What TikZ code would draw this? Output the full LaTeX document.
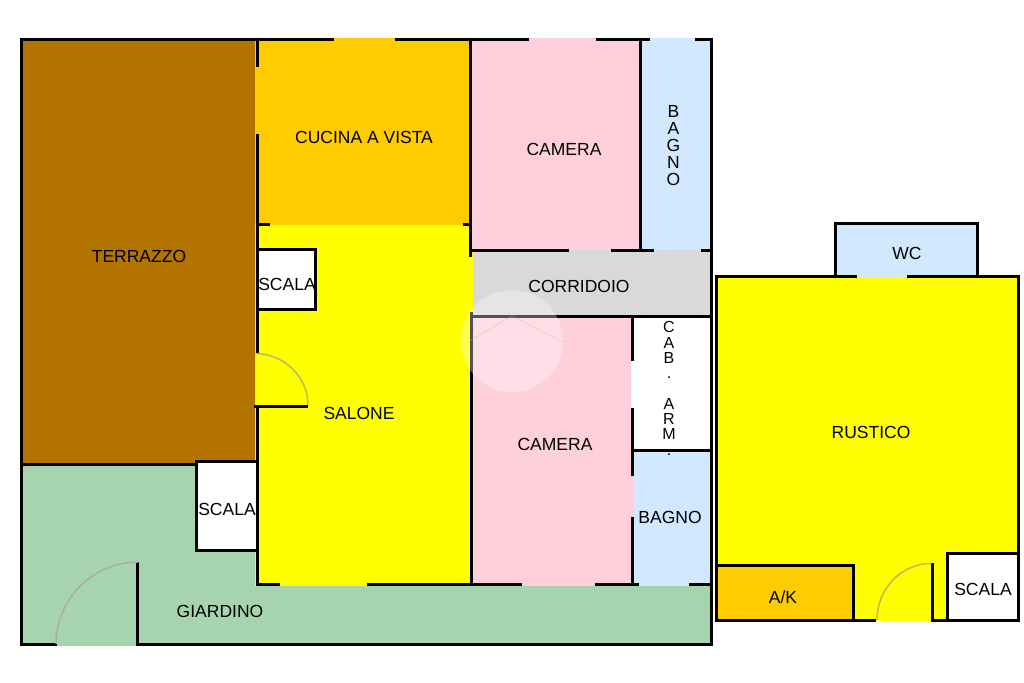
\documentclass[tikz,border=0pt]{standalone}
\usepackage{fontspec}
\setmainfont{Liberation Sans}
\definecolor{terr}{HTML}{B37400}
\definecolor{cuc}{HTML}{FFCC00}
\definecolor{cam}{HTML}{FFD0DC}
\definecolor{bag}{HTML}{D2E8FF}
\definecolor{cor}{HTML}{D9D9D9}
\definecolor{gia}{HTML}{A6D4AE}
\definecolor{sal}{HTML}{FFFF00}
\definecolor{swinggray}{HTML}{ABABAB}
\definecolor{swingolive}{HTML}{BDB65A}
\tikzset{
  wall/.style={line width=3pt,line cap=butt,line join=miter,black},
  swing/.style={line width=1.5pt},
  label/.style={font=\fontsize{17.5pt}{18pt}\selectfont,inner sep=0pt,text=black},
  stack/.style={inner sep=0pt,align=center,text=black}
}
\begin{document}
\begin{tikzpicture}[x=1pt,y=-1pt]
\useasboundingbox (0,0) rectangle (1024,682);
\fill[white] (0,0) rectangle (1024,682);
% room fills
\fill[terr] (21,39) rectangle (257,465);
\fill[gia] (21,464) rectangle (711,646);
\fill[cuc] (255,38) rectangle (470,225);
\fill[sal] (255,225) rectangle (473,586);
\fill[cam] (470,38) rectangle (640,250);
\fill[bag] (640,38) rectangle (711,250);
\fill[cor] (473,250) rectangle (710,316);
\fill[cam] (471,316) rectangle (633,586);
\fill[white] (631,316) rectangle (710,450);
\fill[bag] (633,450) rectangle (710,586);
\fill[white] (257,250) rectangle (315,309);
\fill[white] (196,461) rectangle (257,550);
\fill[sal] (717,276) rectangle (1018,620);
\fill[sal] (877,618) rectangle (932,621);
\fill[bag] (835,224) rectangle (978,278);
\fill[cuc] (717,565) rectangle (853,620);
\fill[white] (947,553) rectangle (1018,620);
% main house walls
\draw[wall] (257.5,39.5) -- (21.5,39.5) -- (21.5,644.5) -- (57,644.5);
\draw[wall] (21.5,464.5) -- (196.5,464.5);
\draw[wall] (256,39.5) -- (334,39.5);
\draw[wall] (395,39.5) -- (529,39.5);
\draw[wall] (596,39.5) -- (650,39.5);
\draw[wall] (695,39.5) -- (711.5,39.5) -- (711.5,644.5) -- (137.5,644.5) -- (137.5,562);
\draw[wall] (257.5,38) -- (257.5,67);
\draw[wall] (257.5,134) -- (257.5,353);
\draw[wall] (257.5,406) -- (257.5,584.5) -- (280,584.5);
\draw[wall] (257.5,224.5) -- (270,224.5);
\draw[wall] (463,224.5) -- (470.5,224.5);
\draw[wall] (470.5,38) -- (470.5,257);
\draw[wall] (471.5,312) -- (471.5,584.5);
\draw[wall] (470.5,250.5) -- (569,250.5);
\draw[wall] (611,250.5) -- (654,250.5);
\draw[wall] (701,250.5) -- (711.5,250.5);
\draw[wall] (640.5,39.5) -- (640.5,250.5);
\draw[wall] (471,316.5) -- (711,316.5);
\draw[wall] (632.5,316) -- (632.5,361);
\draw[wall] (632.5,408) -- (632.5,476);
\draw[wall] (632.5,517) -- (632.5,584);
\draw[wall] (632.5,450.5) -- (711,450.5);
\draw[wall] (367,584.5) -- (522,584.5);
\draw[wall] (595,584.5) -- (639,584.5);
\draw[wall] (689,584.5) -- (711,584.5);
\draw[wall] (257.5,249.5) -- (315.5,249.5) -- (315.5,309.5) -- (257.5,309.5);
\draw[wall] (257,461.5) -- (196.5,461.5) -- (196.5,550.5) -- (257,550.5);
\draw[wall] (254,406.5) -- (308,406.5);
% rustico walls
\draw[wall] (857,276.5) -- (716.5,276.5) -- (716.5,620.5) -- (876,620.5);
\draw[wall] (907,276.5) -- (1018.5,276.5) -- (1018.5,620.5) -- (932,620.5);
\draw[wall] (932.5,563) -- (932.5,622);
\draw[wall] (835.5,276) -- (835.5,223.5) -- (977.5,223.5) -- (977.5,276);
\draw[wall] (717,565.5) -- (853.5,565.5) -- (853.5,620);
\draw[wall] (947.5,620) -- (947.5,553.5) -- (1018,553.5);
% door swings
\draw[swing,color=swinggray] (138,562) .. controls (93,562) and (56,599) .. (56,644);
\draw[swing,color=swingolive] (255,353.5) .. controls (284,353.5) and (308,377) .. (308,405);
\draw[swing,color=swingolive] (931,563.5) .. controls (901,563.5) and (877,589) .. (877,620);
% labels
\node[label] (terrazzo) at (139,256.5) {TERRAZZO};
\node[label] (cucina) at (364,137) {CUCINA A VISTA};
\node[label] (camera1) at (564,149.5) {CAMERA};
\node[stack,font=\fontsize{17.5pt}{17pt}\selectfont] (bagno1) at (673.5,146) {B\\A\\G\\N\\O};
\node[label] (corridoio) at (579,286.5) {CORRIDOIO};
\node[label] (scala1) at (287,284) {SCALA};
\node[label] (salone) at (359,413.5) {SALONE};
\node[label] (camera2) at (555,444.5) {CAMERA};
\node[stack,anchor=north,font=\fontsize{16pt}{15.3pt}\selectfont] (cab) at (669,321.5) {C\\A\\B\\.\\[15.3pt]A\\R\\M\\.};
\node[label] (bagno2) at (670,517.5) {BAGNO};
\node[label] (scala2) at (227,509.5) {SCALA};
\node[label] (giardino) at (220,611.5) {GIARDINO};
\node[label] (wc) at (907,253.5) {WC};
\node[label] (rustico) at (871,432.5) {RUSTICO};
\node[label] (ak) at (783,597) {A/K};
\node[label] (scala3) at (983,589.5) {SCALA};
% watermark
\fill[white,opacity=0.32] (512,341) circle (51);
\draw[cam!75!red,opacity=0.35,line width=1pt] (468,342) -- (512,316) -- (563,342);
\end{tikzpicture}
\end{document}
